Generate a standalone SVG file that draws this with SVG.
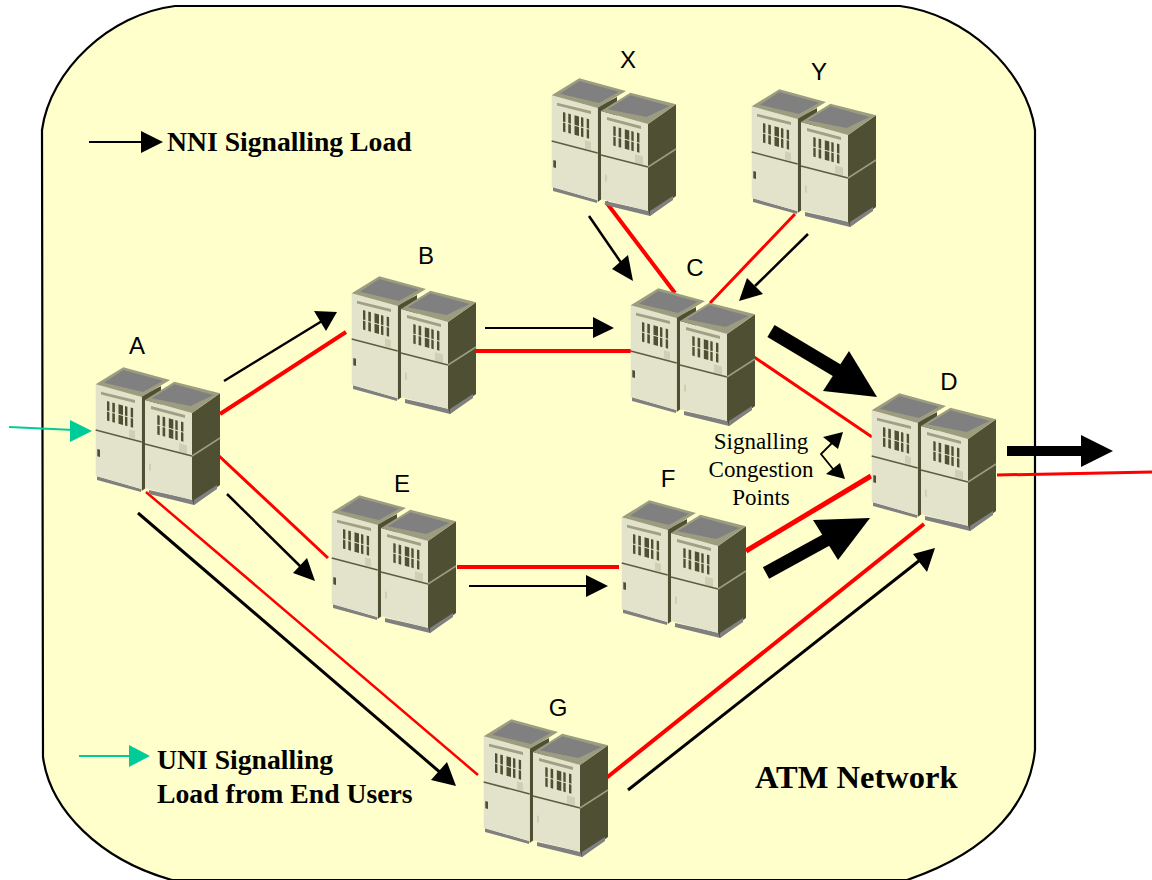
<svg xmlns="http://www.w3.org/2000/svg" width="1152" height="880" viewBox="0 0 1152 880">
<style>
.bg{fill:#FFFFCC;stroke:#000;stroke-width:2.2}
.lbl{font-family:"Liberation Sans",Arial,sans-serif;font-size:24px;fill:#000;text-anchor:middle}
.leg{font-family:"Liberation Serif","Times New Roman",serif;font-size:27.7px;font-weight:bold;fill:#000}
.atm{font-family:"Liberation Serif","Times New Roman",serif;font-size:32.5px;font-weight:bold;fill:#000}
.cong{font-family:"Liberation Serif","Times New Roman",serif;font-size:23px;fill:#000;text-anchor:middle}
.r{stroke:#FF0000;fill:none}
.k{stroke:#000;fill:none}
.c{stroke:#00CC99;fill:none;stroke-width:2}
.kh{fill:#000}
.ch{fill:#00CC99}
.front{fill:#E3E3CB}
.dark{fill:#4F4F33}
.cap{fill:#9C9C80}
.gray{fill:#808080}
.strip{fill:#A0A084}
.sq{fill:#CFCFB5}
.div{stroke:#5C5C40;stroke-width:1.5;fill:none}
.divl{stroke:#9C9C80;stroke-width:1.5;fill:none}
</style>
<defs>
<g id="vents" fill="#4F4F33">
<rect x="0" y="0" width="2.4" height="9.5"/><rect x="5.3" y="0" width="2.6" height="9.5"/><rect x="11.5" y="0" width="4.5" height="9.5"/><rect x="18" y="0" width="2.4" height="9.5"/><rect x="23.7" y="0" width="2.4" height="9.5"/>
<rect x="0" y="10.5" width="2.4" height="9"/><rect x="5.3" y="10.5" width="2.6" height="9"/><rect x="11.5" y="10.5" width="4.5" height="9"/><rect x="18" y="10.5" width="2.4" height="9"/><rect x="23.7" y="10.5" width="2.4" height="9"/>
</g>
<g id="server">
<polygon class="gray" points="2,109 46,122 46,125 2,113"/>
<polygon class="dark" points="46.7,29 66,19 66,40 52,120 46.7,124"/>
<polygon class="front" points="0.7,17.3 46.7,30 46.7,122 0.7,109"/>
<polygon class="cap" points="0.7,17.3 28.3,0.3 75,13 46.7,30"/>
<polygon class="gray" points="9,15.7 28.3,3 68,13.7 48,25"/>
<polygon class="strip" points="6,24.7 40,33 40,36 6,27.5"/>
<use href="#vents" transform="matrix(1 .277 0 1 12 34)"/>
<polygon class="sq" points="34,62.3 40,64 40,72 34,70.3"/>
<polygon class="dark" points="2.3,82 5,82.7 5,90 2.3,89.3"/>
<polyline class="div" points="0.7,63 46.7,75"/>
<polygon class="gray" points="54,123 99,133 99,138 54,127"/>
<polygon class="dark" points="97,46 125,26.3 125,118 99,138 97,132"/>
<polygon class="gray" points="99,133 122,118 122,122 99,138"/>
<polygon class="front" points="50,33 97,46 97,133 50,121"/>
<polygon class="cap" points="50,33 79.3,14.7 125,26.3 97,46"/>
<polygon class="gray" points="56.7,31.3 79.3,17.3 118.5,28 95.5,39"/>
<polygon class="strip" points="56,39 90,48 90,51 56,42"/>
<use href="#vents" transform="matrix(1 .277 0 1 62.3 48)"/>
<polygon class="sq" points="84,76.3 92,78.5 92,87 84,84.8"/>
<polygon fill="#CFCFB5" points="54,96.3 56,97 56,104 54,103.5"/>
<polyline class="div" points="50,77 97,89"/>
<polyline class="divl" points="97,89 125,71"/>
</g>
</defs>
<path id="network" class="bg" d="M42,130 C50,70 110,14 175,6 L900,6 C965,14 1027,70 1035,130 L1035,750 C1030,800 995,850 907,880 L172,880 C100,860 50,810 43,757 Z"/>
<g id="connectors">
<g class="r">
<line x1="220" y1="414" x2="346" y2="332" stroke-width="4"/>
<line x1="475" y1="351" x2="631" y2="351" stroke-width="4"/>
<line x1="606" y1="202" x2="675" y2="293" stroke-width="4"/>
<line x1="795" y1="214" x2="710" y2="303" stroke-width="3"/>
<line x1="754" y1="357" x2="872" y2="437" stroke-width="3"/>
<line x1="218" y1="455" x2="328" y2="558" stroke-width="3"/>
<line x1="457" y1="567" x2="619" y2="567" stroke-width="4"/>
<line x1="746" y1="551" x2="871" y2="476" stroke-width="5"/>
<line x1="146" y1="492" x2="478" y2="775" stroke-width="2.5"/>
<line x1="605" y1="779" x2="924" y2="524" stroke-width="4"/>
<line x1="997" y1="475" x2="1152" y2="472" stroke-width="3"/>
</g>
<g class="k">
<line x1="89" y1="142" x2="145" y2="142" stroke-width="2"/>
<line x1="224" y1="381" x2="322" y2="321" stroke-width="2.5"/>
<line x1="485" y1="328" x2="596" y2="328" stroke-width="2"/>
<line x1="589" y1="216" x2="622" y2="264" stroke-width="2.5"/>
<line x1="808" y1="234" x2="755" y2="286" stroke-width="2.5"/>
<line x1="771" y1="331" x2="838" y2="371" stroke-width="14"/>
<line x1="766" y1="573" x2="828" y2="539" stroke-width="13"/>
<line x1="227" y1="494" x2="302" y2="568" stroke-width="2.5"/>
<line x1="469" y1="586" x2="590" y2="586" stroke-width="2"/>
<line x1="138" y1="513" x2="442" y2="774" stroke-width="3"/>
<line x1="628" y1="790" x2="920" y2="560" stroke-width="3"/>
<line x1="1007" y1="451" x2="1085" y2="451" stroke-width="10"/>
<polyline points="833,442 821,454 833,469" stroke-width="1.8"/>
</g>
<g class="kh">
<polygon points="141,131 141,153 163,142"/>
<polygon points="337,312 314,311 326,331"/>
<polygon points="593,317 593,338 614,328"/>
<polygon points="633,281 612,269 628,255"/>
<polygon points="739,301 747,278 763,294"/>
<polygon points="877,397 849,351 823,391"/>
<polygon points="870,518 813,520 838,560"/>
<polygon points="315,581 293,573 307,558"/>
<polygon points="586,575 586,597 608,586"/>
<polygon points="456,786 431,780 447,762"/>
<polygon points="935,548 913,554 927,572"/>
<polygon points="1081,435 1081,467 1113,451"/>
<polygon points="843,432 823,437 838,449"/>
<polygon points="845,479 826,474 840,463"/>
</g>
<line class="c" x1="9" y1="427" x2="74" y2="430"/>
<polygon class="ch" points="70,420 70,442 92,431"/>
<line class="c" x1="79" y1="756" x2="131" y2="756"/>
<polygon class="ch" points="129,745 129,767 150,756"/>
</g>
<g id="node-A"><use href="#server" transform="translate(95 367)"/><text class="lbl" x="137" y="354">A</text></g>
<g id="node-B"><use href="#server" transform="translate(351 276)"/><text class="lbl" x="426" y="264">B</text></g>
<g id="node-C"><use href="#server" transform="translate(630 288)"/><text class="lbl" x="695" y="276">C</text></g>
<g id="node-D"><use href="#server" transform="translate(871 393)"/><text class="lbl" x="949" y="390">D</text></g>
<g id="node-E"><use href="#server" transform="translate(331 495)"/><text class="lbl" x="402" y="492">E</text></g>
<g id="node-F"><use href="#server" transform="translate(621 500)"/><text class="lbl" x="668" y="487">F</text></g>
<g id="node-G"><use href="#server" transform="translate(483 719)"/><text class="lbl" x="558" y="716">G</text></g>
<g id="node-X"><use href="#server" transform="translate(551 78)"/><text class="lbl" x="628" y="68">X</text></g>
<g id="node-Y"><use href="#server" transform="translate(751 89)"/><text class="lbl" x="819" y="80">Y</text></g>
<g id="labels">
<text class="leg" x="167" y="151">NNI Signalling Load</text>
<text class="leg" x="157" y="769">UNI Signalling</text>
<text class="leg" x="157" y="803">Load from End Users</text>
<text class="atm" x="755" y="788">ATM Network</text>
<text class="cong" x="761" y="449">Signalling</text>
<text class="cong" x="761" y="477">Congestion</text>
<text class="cong" x="761" y="505">Points</text>
</g>
</svg>
